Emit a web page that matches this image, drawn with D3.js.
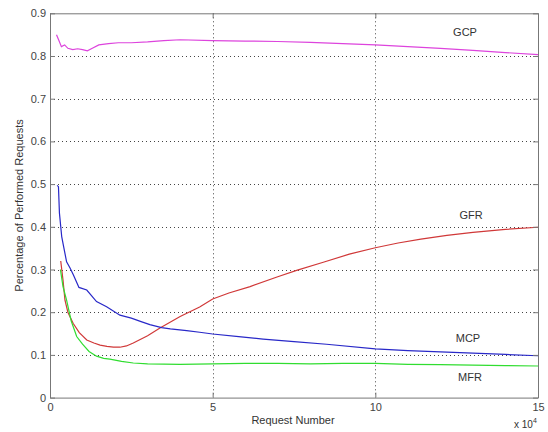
<!DOCTYPE html>
<html><head><meta charset="utf-8">
<script src="https://cdn.jsdelivr.net/npm/d3@7"></script>
<style>body{margin:0;background:#fff}svg{display:block}</style>
</head><body>
<svg id="c" width="548" height="432"></svg>
<script>
const xTicks = [0, 5, 10, 15];
const yTicks = [0, 0.1, 0.2, 0.3, 0.4, 0.5, 0.6, 0.7, 0.8, 0.9];

const gcpX = [0.2,0.28,0.35,0.45,0.55,0.7,0.85,1.0,1.15,1.3,1.5,1.8,2.1,2.5,3.0,3.5,4.0,5,6,7,8,9,10,11,12,13,14,15];
const gcpY = [0.85,0.835,0.822,0.826,0.818,0.815,0.817,0.815,0.812,0.818,0.826,0.829,0.831,0.831,0.833,0.836,0.838,0.836,0.835,0.834,0.832,0.829,0.826,0.822,0.818,0.813,0.808,0.803];

const mcpX = [0.22,0.26,0.29,0.36,0.41,0.51,0.62,0.72,0.89,1.13,1.43,1.74,2.15,2.5,2.8,3.07,3.43,3.7,4.2,4.6,5,5.8,6.55,7.5,8.5,10,11,12,13,14,15];
const mcpY = [0.497,0.494,0.432,0.377,0.357,0.318,0.303,0.287,0.258,0.252,0.225,0.213,0.193,0.186,0.178,0.171,0.164,0.161,0.157,0.153,0.149,0.143,0.137,0.131,0.125,0.114,0.11,0.107,0.104,0.101,0.098];

const mfrX = [0.32,0.4,0.51,0.65,0.82,1.0,1.2,1.43,1.65,1.84,2.2,2.56,3,4,5,6,7,8,9,10,11,12,13,14,15];
const mfrY = [0.30,0.26,0.228,0.18,0.143,0.125,0.108,0.097,0.092,0.09,0.085,0.081,0.079,0.078,0.079,0.08,0.08,0.079,0.08,0.08,0.078,0.077,0.076,0.075,0.074];

const gfrX = [0.33,0.4,0.46,0.55,0.71,0.9,1.13,1.35,1.54,1.75,1.95,2.15,2.35,2.56,3.0,3.38,4.0,4.6,5,5.5,6.15,7.0,7.58,8.4,9.2,10,10.7,11.4,12.2,13,14,15];
const gfrY = [0.32,0.275,0.228,0.2,0.174,0.152,0.135,0.128,0.123,0.12,0.118,0.118,0.121,0.128,0.145,0.163,0.19,0.212,0.231,0.245,0.26,0.283,0.298,0.317,0.336,0.351,0.362,0.371,0.38,0.387,0.394,0.399];

const seriesNames = ["GCP", "GFR", "MCP", "MFR"];
const seriesColors = ["#dd44dd", "#d03838", "#2828c8", "#30dd30"];
const seriesXs = [gcpX, gfrX, mcpX, mfrX];
const seriesYs = [gcpY, gfrY, mcpY, mfrY];
const labelPos = [[465, 0.848], [471, 0.418], [468, 0.131], [470, 0.04]];

const L = 50, R = 538, T = 13.3, B = 397.6;
const svg = d3.select("#c");
const x = d3.scaleLinear().domain([0, 15]).range([L, R]);
const y = d3.scaleLinear().domain([0, 0.9]).range([B, T]);
const font = "Liberation Sans, Arial, sans-serif";

// grid
const g = svg.append("g");
g.selectAll(".gx").data(xTicks.slice(1, -1)).enter().append("line")
  .attr("x1", d => Math.round(x(d)) + 0.5).attr("x2", d => Math.round(x(d)) + 0.5)
  .attr("y1", T).attr("y2", B)
  .attr("stroke", "#444").attr("stroke-width", 1).attr("stroke-dasharray", "1,3");
g.selectAll(".gy").data(yTicks.slice(1, -1)).enter().append("line")
  .attr("y1", d => Math.round(y(d)) + 0.5).attr("y2", d => Math.round(y(d)) + 0.5)
  .attr("x1", L).attr("x2", R)
  .attr("stroke", "#444").attr("stroke-width", 1).attr("stroke-dasharray", "1,3");

// series
const line = d3.line().x(d => x(d[0])).y(d => y(d[1]));
seriesNames.forEach((n, i) => {
  const pts = seriesXs[i].map((v, j) => [v, seriesYs[i][j]]);
  svg.append("path").attr("d", line(pts)).attr("fill", "none")
    .attr("stroke", seriesColors[i]).attr("stroke-width", 1.2);
  svg.append("text").attr("x", labelPos[i][0]).attr("y", y(labelPos[i][1]))
    .attr("text-anchor", "middle").attr("font-family", font).attr("font-size", 11)
    .attr("fill", "#333").text(n);
});

// axes
const axCol = "#777";
const xAxis = d3.axisBottom(x).tickValues(xTicks).tickSizeInner(-5).tickSizeOuter(0).tickPadding(6);
const yAxis = d3.axisLeft(y).tickValues(yTicks).tickSizeInner(-5).tickSizeOuter(0).tickPadding(4)
  .tickFormat(d => d === 0 ? "0" : d3.format(".1f")(d));
const xa = svg.append("g").attr("transform", `translate(0,${B})`).call(xAxis);
const ya = svg.append("g").attr("transform", `translate(${L},0)`).call(yAxis);
const xt = svg.append("g").attr("transform", `translate(0,${T})`).call(d3.axisTop(x).tickValues(xTicks).tickSizeInner(-5).tickSizeOuter(0).tickFormat(""));
const yr = svg.append("g").attr("transform", `translate(${R},0)`).call(d3.axisRight(y).tickValues(yTicks).tickSizeInner(-5).tickSizeOuter(0).tickFormat(""));
[xa, ya, xt, yr].forEach(a => {
  a.selectAll("path,line").attr("stroke", axCol);
  a.selectAll("text").attr("fill", "#444").attr("font-family", font).attr("font-size", 11);
});

// labels
svg.append("text").attr("x", 293).attr("y", 424).attr("text-anchor", "middle")
  .attr("font-family", font).attr("font-size", 11).attr("fill", "#333").text("Request Number");
svg.append("text").attr("transform", `translate(23,${(T + B) / 2}) rotate(-90)`)
  .attr("text-anchor", "middle").attr("font-family", font).attr("font-size", 11)
  .attr("fill", "#333").text("Percentage of Performed Requests");
const sci = svg.append("text").attr("x", 514).attr("y", 428)
  .attr("font-family", font).attr("font-size", 10).attr("fill", "#333");
sci.append("tspan").text("x 10");
sci.append("tspan").attr("dy", -5).attr("font-size", 7).text("4");
</script>
</body></html>
